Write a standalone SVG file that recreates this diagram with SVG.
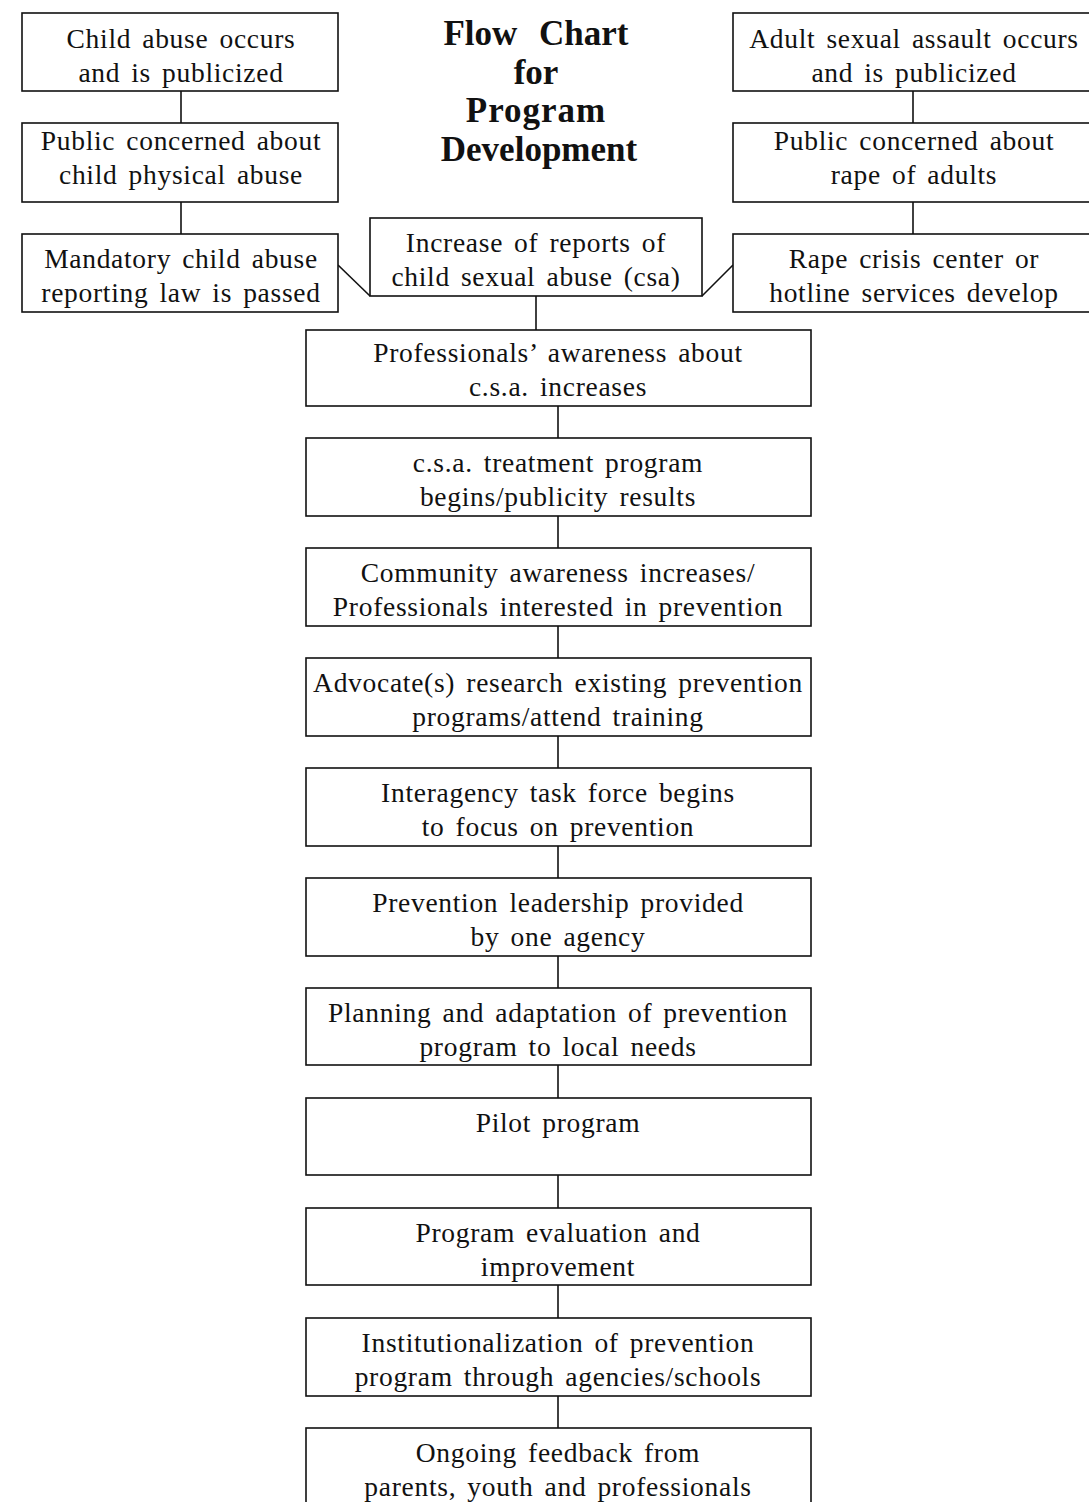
<svg xmlns="http://www.w3.org/2000/svg" width="1089" height="1502" viewBox="0 0 1089 1502">
<style>
.box{fill:#fff;stroke:#111;stroke-width:1.6}
.t{font-family:"Liberation Serif","Times New Roman",serif;font-size:27.5px;fill:#111;text-anchor:middle;letter-spacing:0.7px;word-spacing:3.5px}
.title{font-family:"Liberation Serif","Times New Roman",serif;font-size:35px;font-weight:bold;fill:#111;text-anchor:middle}
.c{stroke:#111;stroke-width:1.6;fill:none}
</style>
<rect width="1089" height="1502" fill="#fff"/>
<g id="title">
<text class="title" x="536" y="45" word-spacing="13">Flow Chart</text>
<text class="title" x="536" y="84">for</text>
<text class="title" x="536" y="122" letter-spacing="1">Program</text>
<text class="title" x="539" y="161">Development</text>
</g>
<g id="connectors">
<line class="c" x1="181" y1="91" x2="181" y2="123"/>
<line class="c" x1="181" y1="202" x2="181" y2="234"/>
<line class="c" x1="913" y1="91" x2="913" y2="123"/>
<line class="c" x1="913" y1="202" x2="913" y2="234"/>
<line class="c" x1="338" y1="265" x2="370" y2="296"/>
<line class="c" x1="702" y1="296" x2="733" y2="265"/>
<line class="c" x1="536" y1="296" x2="536" y2="330"/>
<line class="c" x1="558" y1="406" x2="558" y2="438"/>
<line class="c" x1="558" y1="516" x2="558" y2="548"/>
<line class="c" x1="558" y1="626" x2="558" y2="658"/>
<line class="c" x1="558" y1="736" x2="558" y2="768"/>
<line class="c" x1="558" y1="846" x2="558" y2="878"/>
<line class="c" x1="558" y1="956" x2="558" y2="988"/>
<line class="c" x1="558" y1="1065" x2="558" y2="1098"/>
<line class="c" x1="558" y1="1175" x2="558" y2="1208"/>
<line class="c" x1="558" y1="1285" x2="558" y2="1318"/>
<line class="c" x1="558" y1="1396" x2="558" y2="1428"/>
</g>
<g id="n-child-abuse">
<rect class="box" x="22" y="13" width="316" height="78"/>
<text class="t" x="181" y="48">Child abuse occurs</text>
<text class="t" x="181" y="82">and is publicized</text>
</g>
<g id="n-public-child">
<rect class="box" x="22" y="123" width="316" height="79"/>
<text class="t" x="181" y="150">Public concerned about</text>
<text class="t" x="181" y="184">child physical abuse</text>
</g>
<g id="n-mandatory">
<rect class="box" x="22" y="234" width="316" height="78"/>
<text class="t" x="181" y="268">Mandatory child abuse</text>
<text class="t" x="181" y="302">reporting law is passed</text>
</g>
<g id="n-adult">
<rect class="box" x="733" y="13" width="360" height="78"/>
<text class="t" x="914" y="48">Adult sexual assault occurs</text>
<text class="t" x="914" y="82">and is publicized</text>
</g>
<g id="n-public-rape">
<rect class="box" x="733" y="123" width="360" height="79"/>
<text class="t" x="914" y="150">Public concerned about</text>
<text class="t" x="914" y="184">rape of adults</text>
</g>
<g id="n-rape-crisis">
<rect class="box" x="733" y="234" width="360" height="78"/>
<text class="t" x="914" y="268">Rape crisis center or</text>
<text class="t" x="914" y="302">hotline services develop</text>
</g>
<g id="n-increase">
<rect class="box" x="370" y="218" width="332" height="78"/>
<text class="t" x="536" y="252">Increase of reports of</text>
<text class="t" x="536" y="286">child sexual abuse (csa)</text>
</g>
<g id="n-professionals">
<rect class="box" x="306" y="330" width="505" height="76"/>
<text class="t" x="558" y="362">Professionals’ awareness about</text>
<text class="t" x="558" y="396">c.s.a. increases</text>
</g>
<g id="n-treatment">
<rect class="box" x="306" y="438" width="505" height="78"/>
<text class="t" x="558" y="472">c.s.a. treatment program</text>
<text class="t" x="558" y="506">begins/publicity results</text>
</g>
<g id="n-community">
<rect class="box" x="306" y="548" width="505" height="78"/>
<text class="t" x="558" y="582">Community awareness increases/</text>
<text class="t" x="558" y="616">Professionals interested in prevention</text>
</g>
<g id="n-advocate">
<rect class="box" x="306" y="658" width="505" height="78"/>
<text class="t" x="558" y="692">Advocate(s) research existing prevention</text>
<text class="t" x="558" y="726">programs/attend training</text>
</g>
<g id="n-interagency">
<rect class="box" x="306" y="768" width="505" height="78"/>
<text class="t" x="558" y="802">Interagency task force begins</text>
<text class="t" x="558" y="836">to focus on prevention</text>
</g>
<g id="n-leadership">
<rect class="box" x="306" y="878" width="505" height="78"/>
<text class="t" x="558" y="912">Prevention leadership provided</text>
<text class="t" x="558" y="946">by one agency</text>
</g>
<g id="n-planning">
<rect class="box" x="306" y="988" width="505" height="77"/>
<text class="t" x="558" y="1022">Planning and adaptation of prevention</text>
<text class="t" x="558" y="1056">program to local needs</text>
</g>
<g id="n-pilot">
<rect class="box" x="306" y="1098" width="505" height="77"/>
<text class="t" x="558" y="1132">Pilot program</text>
</g>
<g id="n-evaluation">
<rect class="box" x="306" y="1208" width="505" height="77"/>
<text class="t" x="558" y="1242">Program evaluation and</text>
<text class="t" x="558" y="1276">improvement</text>
</g>
<g id="n-institutionalization">
<rect class="box" x="306" y="1318" width="505" height="78"/>
<text class="t" x="558" y="1352">Institutionalization of prevention</text>
<text class="t" x="558" y="1386">program through agencies/schools</text>
</g>
<g id="n-feedback">
<rect class="box" x="306" y="1428" width="505" height="90"/>
<text class="t" x="558" y="1462">Ongoing feedback from</text>
<text class="t" x="558" y="1496">parents, youth and professionals</text>
</g>
</svg>
